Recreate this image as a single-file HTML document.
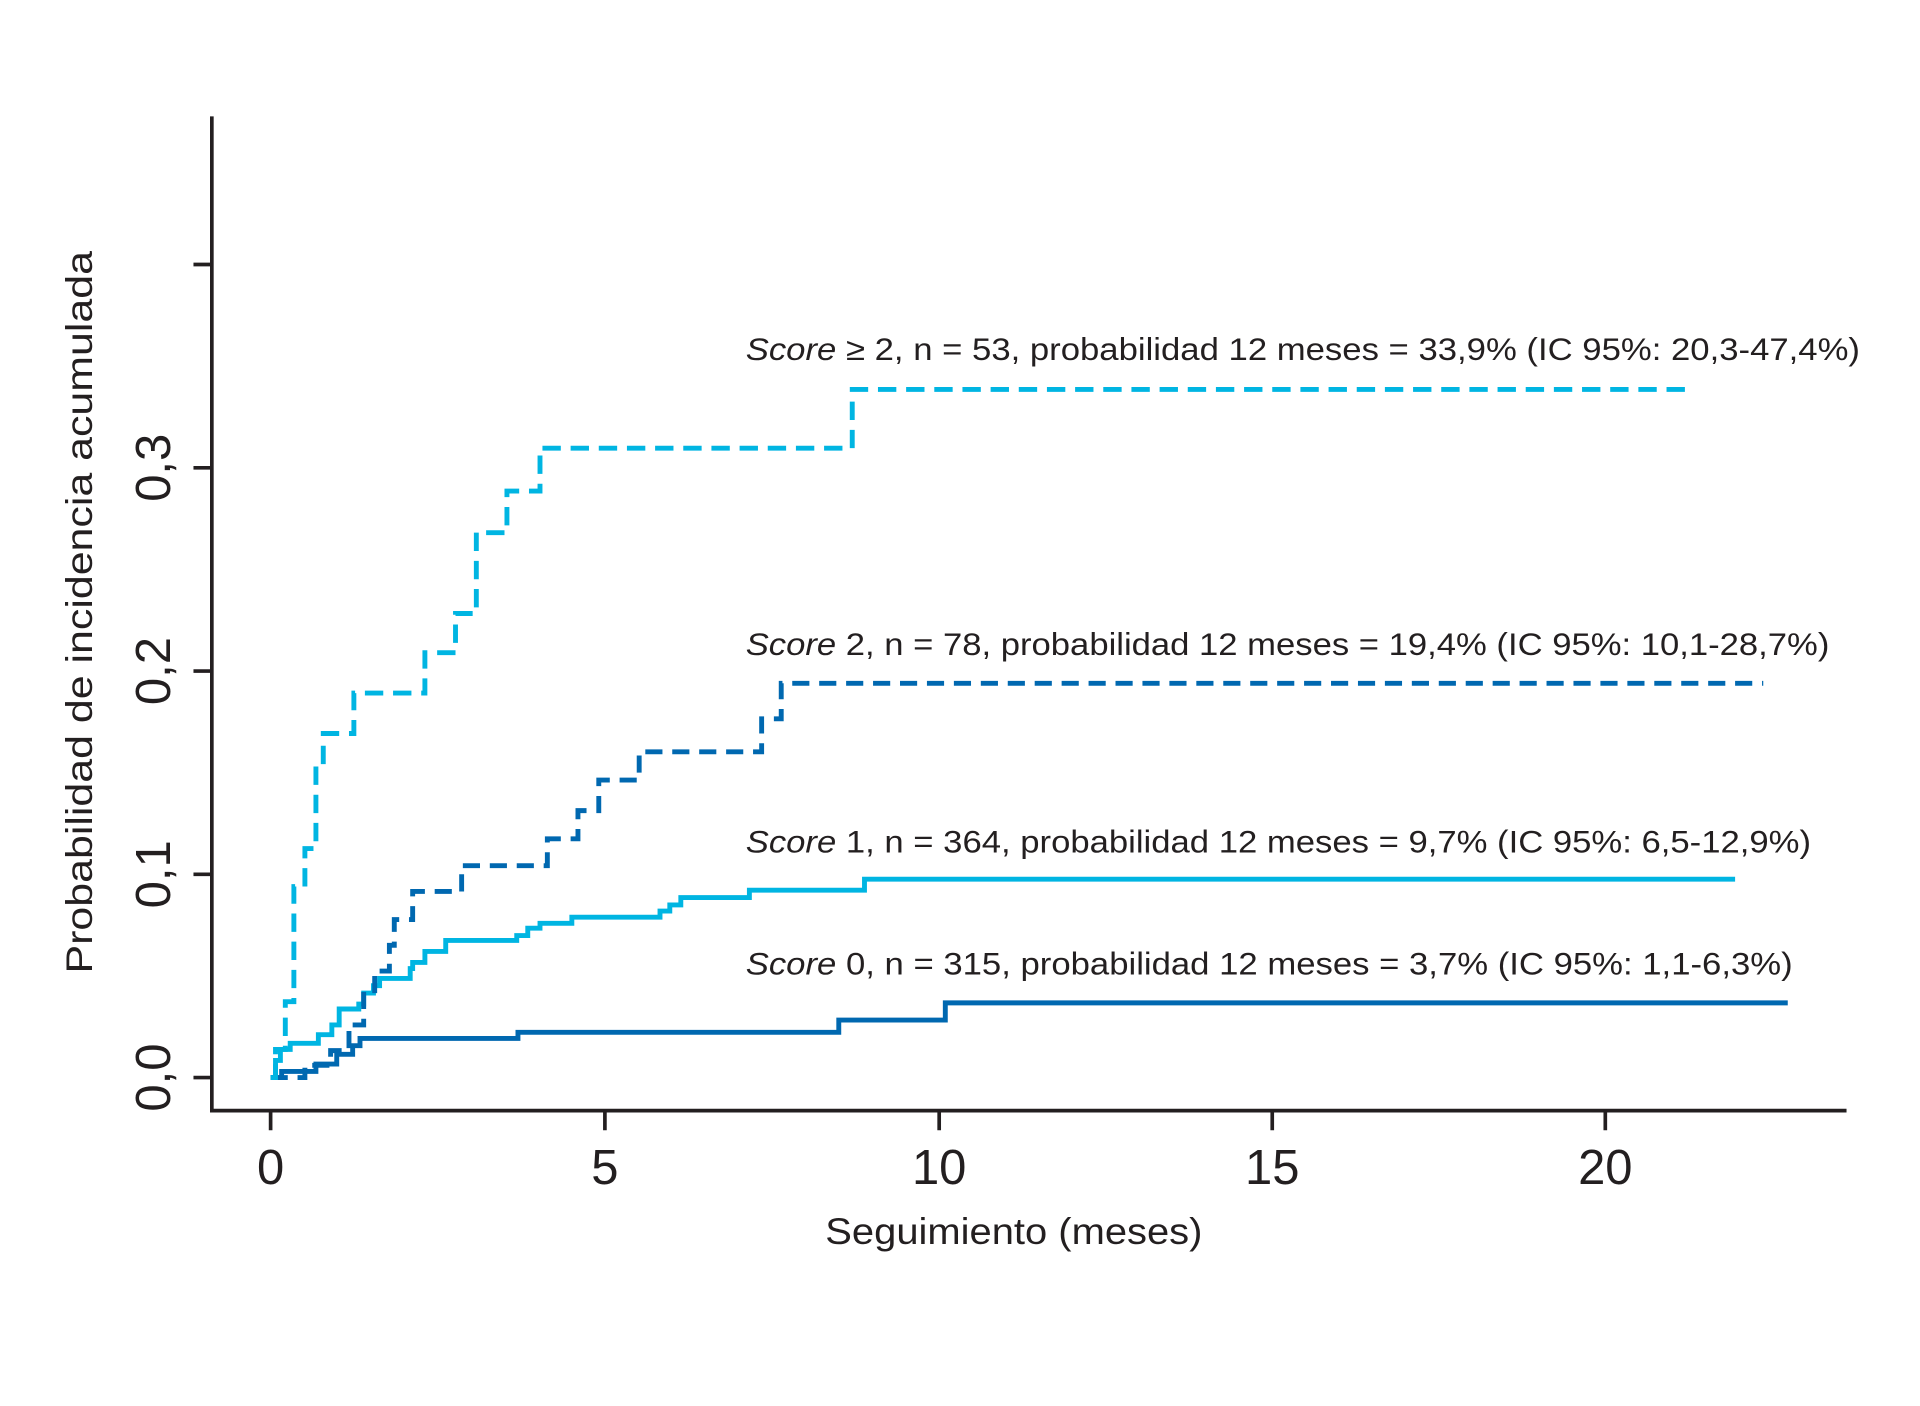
<!DOCTYPE html>
<html><head><meta charset="utf-8"><style>
html,body{margin:0;padding:0;background:#fff;}
svg{display:block;}
text{font-family:"Liberation Sans",sans-serif;fill:#231f20;}
</style></head><body>
<svg width="1920" height="1406" viewBox="0 0 1568 1148.2" xmlns="http://www.w3.org/2000/svg">
<rect width="1568" height="1148.2" fill="#fff"/>
<g stroke="#231f20" stroke-width="3" fill="none">
<path d="M173 95 V907 H1508"/>
<path d="M158 880 H173 M158 714 H173 M158 548 H173 M158 382 H173 M158 216 H173"/>
<path d="M221 907 V923 M494 907 V923 M767 907 V923 M1039 907 V923 M1311 907 V923"/>
</g>
<g font-size="40" text-anchor="middle">
<text x="221" y="967">0</text><text x="494" y="967">5</text><text x="767" y="967">10</text><text x="1039" y="967">15</text><text x="1311" y="967">20</text>
</g>
<g font-size="40" text-anchor="middle">
<text transform="translate(139,880) rotate(-90)">0,0</text>
<text transform="translate(139,714) rotate(-90)">0,1</text>
<text transform="translate(139,548) rotate(-90)">0,2</text>
<text transform="translate(139,382) rotate(-90)">0,3</text>
</g>
<text x="828" y="1016" font-size="30" text-anchor="middle" textLength="308" lengthAdjust="spacingAndGlyphs">Seguimiento (meses)</text>
<text transform="translate(75,500) rotate(-90)" font-size="30" text-anchor="middle" textLength="590" lengthAdjust="spacingAndGlyphs">Probabilidad de incidencia acumulada</text>
<g font-size="26">
<text x="609" y="294" textLength="910" lengthAdjust="spacingAndGlyphs"><tspan font-style="italic">Score</tspan> ≥ 2, n = 53, probabilidad 12 meses = 33,9% (IC 95%: 20,3-47,4%)</text>
<text x="609" y="535" textLength="885" lengthAdjust="spacingAndGlyphs"><tspan font-style="italic">Score</tspan> 2, n = 78, probabilidad 12 meses = 19,4% (IC 95%: 10,1-28,7%)</text>
<text x="609" y="696" textLength="870" lengthAdjust="spacingAndGlyphs"><tspan font-style="italic">Score</tspan> 1, n = 364, probabilidad 12 meses = 9,7% (IC 95%: 6,5-12,9%)</text>
<text x="609" y="796" textLength="855" lengthAdjust="spacingAndGlyphs"><tspan font-style="italic">Score</tspan> 0, n = 315, probabilidad 12 meses = 3,7% (IC 95%: 1,1-6,3%)</text>
</g>
<g fill="none" stroke-width="4" stroke-linejoin="miter">
<path stroke="#0068b0" d="M221 880 H230 V875 H258 V869 H275 V861 H288 V854 H294 V848 H423 V843 H685 V833 H772 V819 H1460"/>
<path stroke="#00b5e2" d="M221 880 H225 V866 H229 V857 H237 V852 H260 V845 H271 V837 H277 V824 H293 V820 H297 V811 H305 V805 H310 V799 H335 V791 H337 V786 H347 V777 H364 V768 H422 V764 H431 V758 H441 V754 H467 V749 H539 V744 H547 V739 H556 V733 H612 V727 H706 V718 H1417"/>
<path stroke="#0068b0" stroke-dasharray="14 8" d="M221 880 H249 V870 H270 V858 H285 V837 H297 V812 H306 V793 H318 V772 H322 V751 H337 V728 H377 V707 H447 V685 H472 V662 H489 V637 H522 V614 H622 V587 H638 V558 H1440"/>
<path stroke="#00b5e2" stroke-dasharray="15 8" d="M221 880 H225 V857 H233 V818 H240 V724 H249 V693 H258 V628 H264 V599 H289 V566 H347 V533 H372 V501 H389 V435 H414 V401 H441 V366 H696 V318 H1380"/>
</g>
</svg>
</body></html>
